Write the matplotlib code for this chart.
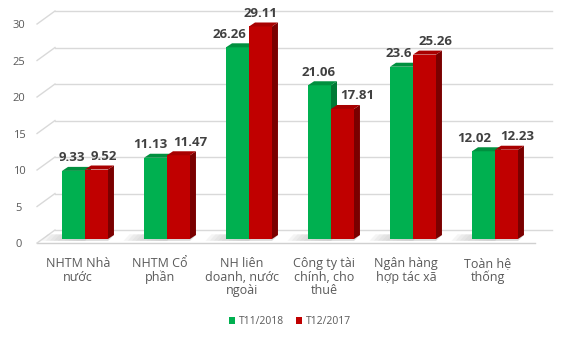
import matplotlib.pyplot as plt
from matplotlib.patches import Polygon, Patch

plt.rcParams['font.family'] = ['Open Sans', 'DejaVu Sans']

categories = ['NHTM Nhà\nnước', 'NHTM Cổ\nphần', 'NH liên\ndoanh, nước\nngoài',
              'Công ty tài\nchính, cho\nthuê', 'Ngân hàng\nhợp tác xã', 'Toàn hệ\nthống']
t11_2018 = [9.33, 11.13, 26.26, 21.06, 23.6, 12.02]
t12_2017 = [9.52, 11.47, 29.11, 17.81, 25.26, 12.23]
yticks = [0, 5, 10, 15, 20, 25, 30]

green, green_top = '#00B050', '#00903F'
red, red_top, red_side = '#C00000', '#A80000', '#7A0000'

fig = plt.figure(figsize=(5.74, 3.37), dpi=100)
ax = fig.add_axes([0, 0, 1, 1])
# x in category units (82 px per group), y in value units (7.3 px per unit)
ax.set_xlim(-85 / 82, (574 - 85) / 82)
ax.set_ylim(-98 / 7.3, (337 - 98) / 7.3)
ax.axis('off')

w = 0.28                   # bar width
dx, dy = 6 / 82, 4 / 7.3   # depth offset of the 3D faces
back_dy, front_dy = 1.23, -0.55
xl_front, xl_back = -0.585, -0.366
xr_front, xr_back = 5.49, 5.695

# floor edge
ax.plot([xl_front, xr_front], [front_dy, front_dy], color='#D0D0D0', lw=1, zorder=1)

# gridlines on the back wall plus the slanted side wall
for v in yticks:
    ax.plot([xl_back, xr_back], [v + back_dy, v + back_dy], color='#D9D9D9', lw=1, zorder=1)
    ax.plot([xl_front, xl_back], [v + front_dy, v + back_dy], color='#D9D9D9', lw=1, zorder=1)
    ax.text(-0.805, v - 0.82, str(v), ha='center', va='center', fontsize=8, color='#595959')

xs = list(range(len(categories)))

# label nudges (category units) so neighbouring values don't collide
green_nudge = [-0.02, -0.06, -0.10, -0.01, -0.03, -0.11]
red_nudge = [0.09, 0.14, 0.0, 0.18, 0.13, 0.13]


def draw_bars(xc, vals, front, top, side, nudge):
    bars = ax.bar(xc, vals, w, color=front, zorder=3)
    for b, v, n in zip(bars, vals, nudge):
        l, r = b.get_x(), b.get_x() + b.get_width()
        ax.add_patch(Polygon([(r, 0), (r, v), (r + dx, v + dy), (r + dx, dy)],
                             closed=True, facecolor=side, edgecolor='none', zorder=2.9))
        ax.add_patch(Polygon([(l, v), (r, v), (r + dx, v + dy), (l + dx, v + dy)],
                             closed=True, facecolor=top, edgecolor='none', zorder=3))
        # soft shadow on the floor, fading to the left
        for k in range(5):
            s = 0.05 * (k + 1)
            ax.add_patch(Polygon([(l - s, -0.25), (r, -0.25), (r + dx, dy), (l - s + dx, dy + 0.1)],
                                 closed=True, facecolor='#C8C8C8', edgecolor='none',
                                 alpha=0.18, zorder=1.5))
        ax.text((l + r) / 2 + n, v + 1.8, f'{v:g}', ha='center', va='center',
                fontsize=9.5, fontweight='bold', color='#404040', zorder=4)


draw_bars([x - w / 2 for x in xs], t11_2018, green, green_top, '#007A36', green_nudge)
draw_bars([x + w / 2 for x in xs], t12_2017, red, red_top, red_side, red_nudge)

for x, c in zip(xs, categories):
    ax.text(x - 0.085, -2.47, c, ha='center', va='top', fontsize=9,
            color='#595959', linespacing=1.05)

handles = [Patch(facecolor=green, label='T11/2018'), Patch(facecolor=red, label='T12/2017')]
fig.legend(handles=handles, loc='center', bbox_to_anchor=(0.505, 0.045), ncol=2,
           frameon=False, fontsize=7.5, handlelength=0.6, handleheight=0.6,
           handletextpad=0.3, columnspacing=1.2, labelcolor='#595959')

fig.savefig('out.png', dpi=100)
